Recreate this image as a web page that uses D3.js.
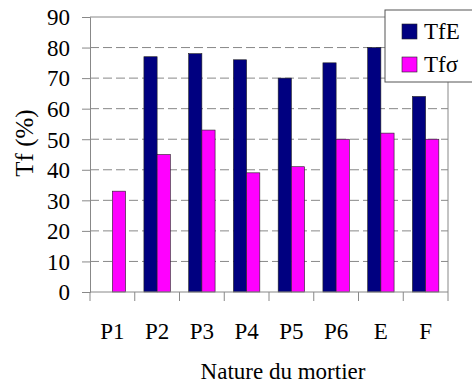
<!DOCTYPE html>
<html>
<head>
<meta charset="utf-8">
<script src="https://cdn.jsdelivr.net/npm/d3@7"></script>
</head>
<body style="margin:0;background:#fff">
<div id="chart"></div>
<script>
// data
const categories = ["P1", "P2", "P3", "P4", "P5", "P6", "E", "F"];
const seriesNames = ["TfE", "Tf\u03c3"];
const tfE = [0, 77, 78, 76, 70, 75, 80, 64];
const tfSigma = [33, 45, 53, 39, 41, 50, 52, 50];
const yTicks = [0, 10, 20, 30, 40, 50, 60, 70, 80, 90];

const colors = { "TfE": "#000080", "Tf\u03c3": "#ff00ff" };
const serif = '"Liberation Serif"';

const width = 472, height = 385;
const margin = { left: 90, right: 24, top: 17, bottom: 93 };

const svg = d3.select("#chart").append("svg")
    .attr("width", width)
    .attr("height", height);

const rows = categories.map((c, i) => ({ cat: c, values: [tfE[i], tfSigma[i]] }));

const x0 = d3.scaleBand()
    .domain(categories)
    .range([margin.left, width - margin.right])
    .paddingInner(0.41)
    .paddingOuter(0.205);

const step = x0.step();

const x1 = d3.scaleBand()
    .domain(seriesNames)
    .range([0, x0.bandwidth()]);

const y = d3.scaleLinear()
    .domain([0, 90])
    .range([height - margin.bottom, margin.top]);

// gridlines (dashed)
svg.append("g")
    .selectAll("line")
    .data(yTicks.filter(d => d > 0 && d < 90))
    .join("line")
    .attr("x1", margin.left)
    .attr("x2", width - margin.right)
    .attr("y1", d => y(d))
    .attr("y2", d => y(d))
    .attr("stroke", "#888")
    .attr("stroke-width", 1)
    .attr("stroke-dasharray", "9,4");

// plot frame top + right
svg.append("line")
    .attr("x1", margin.left).attr("x2", width - margin.right)
    .attr("y1", y(90)).attr("y2", y(90))
    .attr("stroke", "#888");
svg.append("line")
    .attr("x1", width - margin.right).attr("x2", width - margin.right)
    .attr("y1", y(90)).attr("y2", y(0))
    .attr("stroke", "#888");

// bars
const groups = svg.append("g")
    .selectAll("g")
    .data(rows)
    .join("g")
    .attr("transform", d => `translate(${x0(d.cat)},0)`);

groups.selectAll("rect")
    .data(d => d.values.map((v, i) => ({ key: seriesNames[i], value: v })).filter(d => d.value > 0))
    .join("rect")
    .attr("x", d => x1(d.key))
    .attr("y", d => y(d.value))
    .attr("width", x1.bandwidth())
    .attr("height", d => y(0) - y(d.value))
    .attr("fill", d => colors[d.key])
    .attr("stroke", "#222")
    .attr("stroke-width", 0.6);

// y axis
const yAxis = svg.append("g")
    .attr("transform", `translate(${margin.left},0)`)
    .call(d3.axisLeft(y).tickValues(yTicks).tickSize(8).tickPadding(12));
yAxis.select(".domain").attr("stroke", "#888");
yAxis.selectAll(".tick line").attr("stroke", "#888");
yAxis.selectAll("text")
    .style("font-family", serif)
    .style("font-size", "23px")
    .attr("fill", "#000")
    .attr("dy", "0.34em");

// x axis: ticks at category boundaries
const xAxis = svg.append("g")
    .attr("transform", `translate(0,${y(0)})`);
xAxis.append("line")
    .attr("x1", margin.left).attr("x2", width - margin.right)
    .attr("stroke", "#888");
xAxis.selectAll("line.tk")
    .data(d3.range(categories.length + 1))
    .join("line")
    .attr("class", "tk")
    .attr("x1", i => margin.left + i * step)
    .attr("x2", i => margin.left + i * step)
    .attr("y1", 0).attr("y2", 9)
    .attr("stroke", "#888");
xAxis.selectAll("text")
    .data(categories)
    .join("text")
    .attr("x", d => x0(d) + x0.bandwidth() / 2)
    .attr("y", 47)
    .attr("text-anchor", "middle")
    .style("font-family", serif)
    .style("font-size", "23px")
    .text(d => d);

// axis titles
svg.append("text")
    .attr("x", 283)
    .attr("y", 379)
    .attr("text-anchor", "middle")
    .style("font-family", serif)
    .style("font-size", "23px")
    .text("Nature du mortier");

svg.append("text")
    .attr("transform", `translate(33,143) rotate(-90)`)
    .attr("text-anchor", "middle")
    .style("font-family", serif)
    .style("font-size", "25px")
    .text("Tf (%)");

// legend
const legend = svg.append("g").attr("transform", "translate(385,10)");
legend.append("rect")
    .attr("width", 95).attr("height", 72)
    .attr("fill", "#fff")
    .attr("stroke", "#555");
legend.selectAll("g")
    .data(seriesNames)
    .join("g")
    .attr("transform", (d, i) => `translate(17,${14 + i * 33})`)
    .call(g => {
        g.append("rect")
            .attr("width", 15).attr("height", 15)
            .attr("fill", d => colors[d])
            .attr("stroke", "#222")
            .attr("stroke-width", 0.6);
        g.append("text")
            .attr("x", 22).attr("y", 15)
            .style("font-family", serif)
            .style("font-size", "23px")
            .text(d => d);
    });
</script>
</body>
</html>
